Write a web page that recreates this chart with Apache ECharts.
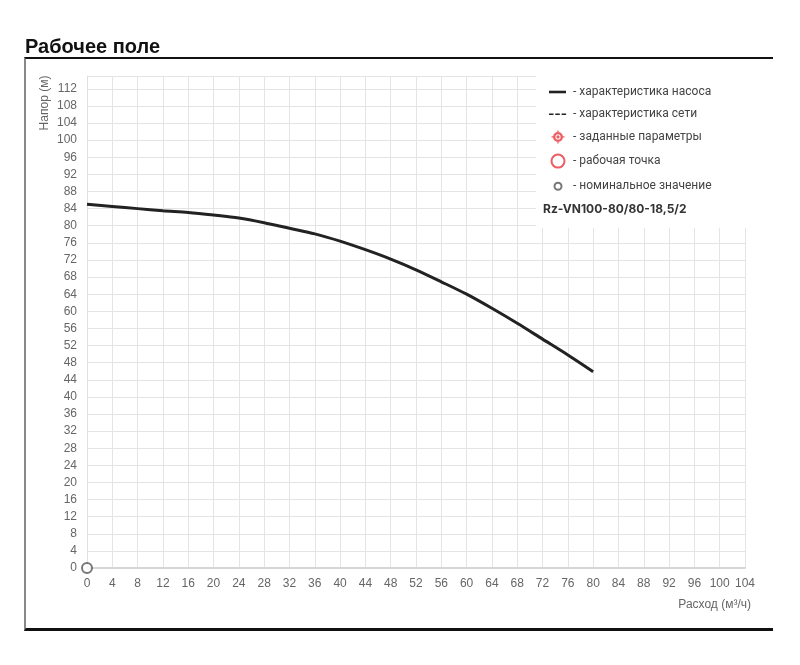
<!DOCTYPE html>
<html>
<head>
<meta charset="utf-8">
<script src="https://cdn.jsdelivr.net/npm/echarts@6/dist/echarts.min.js"></script>
<style>
  html, body { margin: 0; padding: 0; background: #fff; }
  #frame { position: absolute; left: 24px; top: 57px; width: 749px; height: 574px; box-sizing: border-box;
           border-top: 2px solid #111; border-left: 2px solid #888; border-bottom: 3px solid #111; }
  #chart { position: absolute; left: 0; top: 0; width: 800px; height: 665px; }
</style>
</head>
<body>
<div id="frame"></div>
<div id="chart"></div>
<script>
// ---- data ----
const flowValues = [0, 4, 8, 12, 16, 20, 24, 28, 32, 36, 40, 44, 48, 52, 56, 60, 64, 68, 72, 76, 80];
const headValues = [85.0, 84.5, 84.0, 83.5, 83.1, 82.5, 81.8, 80.7, 79.4, 78.1, 76.4, 74.4, 72.2, 69.7, 66.9, 64.0, 60.7, 57.2, 53.5, 49.8, 45.9];
const nominalPoint = [[0, 0]];
const seriesNames = ['характеристика насоса', 'характеристика сети', 'заданные параметры', 'рабочая точка', 'номинальное значение'];
const titleText = 'Рабочее поле';
const modelName = 'Rz-VN100-80/80-18,5/2';
const xAxisName = 'Расход (м³/ч)';
const yAxisName = 'Напор (м)';
const xMax = 104, yMax = 115, tickStep = 4;

const pumpCurve = flowValues.map((x, i) => [x, headValues[i]]);

const solidIcon = 'path://M0,0M20,12M1,4.7h17v2.6h-17z';
const dashedIcon = 'path://M0,0M20,12M1,5.3h4.5v1.4h-4.5z M7.3,5.3h4.5v1.4h-4.5z M13.6,5.3h4.5v1.4h-4.5z';
const targetIcon = 'path://M10.8,0h2.4v4h-2.4z M10.8,20h2.4v4h-2.4z M0,10.8h4v2.4h-4z M20,10.8h4v2.4h-4z ' +
  'M2.8,12A9.2,9.2 0 1,1 21.2,12A9.2,9.2 0 1,1 2.8,12Z M7.2,12A4.8,4.8 0 1,0 16.8,12A4.8,4.8 0 1,0 7.2,12Z ' +
  'M9,12A3,3 0 1,1 15,12A3,3 0 1,1 9,12Z';
const smallCircleIcon = 'path://M0,0M20,20M4.6,10A5.4,5.4 0 1,0 15.4,10A5.4,5.4 0 1,0 4.6,10Z';

const labelFont = 'Liberation Sans, Arial, sans-serif';
const legendFont = 'Roboto, Inter, sans-serif';

const chart = echarts.init(document.getElementById('chart'), null, { renderer: 'canvas' });
chart.setOption({
  animation: false,
  title: {
    text: titleText, left: 25, top: 37, padding: 0,
    textStyle: { fontFamily: labelFont, fontSize: 20, fontWeight: 'bold', color: '#111' }
  },
  grid: { left: 87, right: 55, top: 76, bottom: 97, containLabel: false },
  xAxis: {
    type: 'value', min: 0, max: xMax, interval: tickStep,
    axisLine: { show: true, onZero: false, lineStyle: { color: '#d6d6d6', width: 2 } },
    axisTick: { show: false },
    axisLabel: { color: '#666', fontSize: 12, fontFamily: labelFont, margin: 10 },
    splitLine: { show: true, lineStyle: { color: '#e4e4e4', width: 1 } }
  },
  yAxis: {
    type: 'value', min: 0, max: yMax, interval: tickStep,
    axisLine: { show: true, lineStyle: { color: '#e0e0e0', width: 1 } },
    axisTick: { show: false },
    axisLabel: {
      color: '#666', fontSize: 12, fontFamily: labelFont, margin: 10,
      formatter: v => (v % tickStep === 0 ? String(v) : '')
    },
    splitLine: { show: true, lineStyle: { color: '#e4e4e4', width: 1 } }
  },
  legend: {
    orient: 'vertical', left: 536, top: 74,
    padding: [12, 38, 34, 12],
    backgroundColor: '#fff',
    itemWidth: 20, itemHeight: 13, itemGap: 10.2,
    symbolKeepAspect: true,
    selectedMode: false,
    formatter: '- {name}',
    textStyle: { color: '#444', fontSize: 12, fontFamily: legendFont },
    data: [
      { name: seriesNames[0], icon: solidIcon },
      { name: seriesNames[1], icon: dashedIcon },
      { name: seriesNames[2], icon: targetIcon },
      { name: seriesNames[3], icon: 'circle' },
      { name: seriesNames[4], icon: smallCircleIcon }
    ]
  },
  graphic: [
    { type: 'text', x: 45, y: 103, rotation: Math.PI / 2, z: 10,
      style: { text: yAxisName, fill: '#666', font: '12px ' + labelFont, textAlign: 'center', textVerticalAlign: 'middle' } },
    { type: 'text', x: 751, y: 605, z: 10,
      style: { text: xAxisName, fill: '#666', font: '12px ' + labelFont, textAlign: 'right', textVerticalAlign: 'middle' } },
    { type: 'text', x: 543, y: 209, z: 100,
      style: { text: modelName, fill: '#333', font: 'bold 12px Inter, Roboto, sans-serif', textAlign: 'left', textVerticalAlign: 'middle' } }
  ],
  series: [
    { name: seriesNames[0], type: 'line', data: pumpCurve, smooth: 0.3, symbol: 'none', showSymbol: false,
      lineStyle: { color: '#222', width: 3 }, itemStyle: { color: '#222' }, z: 3 },
    { name: seriesNames[1], type: 'line', data: [], symbol: 'none',
      lineStyle: { color: '#222', width: 1.5, type: [4, 2] }, itemStyle: { color: '#222' } },
    { name: seriesNames[2], type: 'scatter', data: [],
      itemStyle: { color: '#e8343c' } },
    { name: seriesNames[3], type: 'scatter', data: [], symbol: 'circle',
      itemStyle: { color: '#fff', borderColor: '#e8343c', borderWidth: 1.5 } },
    { name: seriesNames[4], type: 'scatter', data: nominalPoint, symbol: 'circle', symbolSize: 10,
      itemStyle: { color: '#fff', borderColor: '#555', borderWidth: 2 }, z: 5 }
  ]
});
</script>
</body>
</html>
